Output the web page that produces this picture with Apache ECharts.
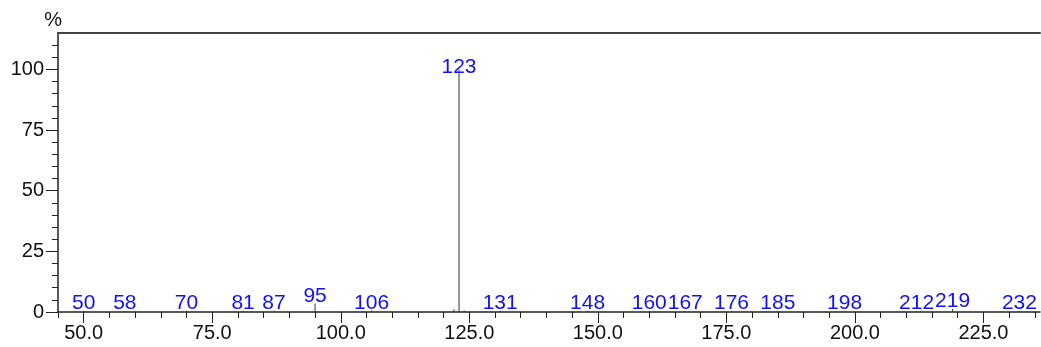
<!DOCTYPE html>
<html>
<head>
<meta charset="utf-8">
<script src="https://cdn.jsdelivr.net/npm/echarts@6/dist/echarts.min.js"></script>
<style>
  html, body { margin: 0; padding: 0; background: #fff; }
  #chart { width: 1041px; height: 347px; }
</style>
</head>
<body>
<div id="chart"></div>
<script>
// labelled peaks (m/z, relative intensity %)
var peakMz  = [50, 58, 70, 81, 87, 95, 106, 123, 131, 148, 160, 167, 176, 185, 198, 212, 219, 232];
var peakInt = [0.4, 0.4, 0.5, 0.5, 0.5, 3.5, 0.6, 100, 0.5, 0.5, 0.4, 0.4, 0.4, 0.4, 0.4, 0.4, 1.2, 0.4];
// small unlabelled peaks
var minorMz  = [122, 124];
var minorInt = [1.0, 0.6];

// tick positions
var xMajor = [50, 75, 100, 125, 150, 175, 200, 225];
var xMinor = [45, 55, 60, 65, 70, 80, 85, 90, 95, 105, 110, 115, 120, 130, 135, 140, 145,
              155, 160, 165, 170, 180, 185, 190, 195, 205, 210, 215, 220, 230, 235];
var yMajor = [0, 25, 50, 75, 100];
var yMinor = [5, 10, 15, 20, 30, 35, 40, 45, 55, 60, 65, 70, 80, 85, 90, 95, 105, 110];

var font = 'Liberation Sans, Arial, sans-serif';
var chart = echarts.init(document.getElementById('chart'));

var labelled = peakMz.map(function(m, i) {
    var item = { value: [m, peakInt[i]] };
    if (m === 123) {
        item.label = { offset: [0, 5] };
    }
    return item;
});
var unlabelled = minorMz.map(function(m, i) { return [m, minorInt[i]]; });

var option = {
    animation: false,
    grid: { left: 58, right: 1, top: 33, bottom: 35 },
    xAxis: [
        {
            type: 'value', min: 45, max: 236, position: 'bottom',
            axisLine: { show: true, onZero: false, lineStyle: { color: '#222', width: 1.5 } },
            axisTick: { show: true, length: 11, customValues: xMajor, lineStyle: { color: '#222' } },
            axisLabel: { customValues: xMajor, margin: 11, color: '#111', fontSize: 20, fontFamily: font,
                formatter: function(v) { return v.toFixed(1); } },
            splitLine: { show: false }
        },
        {
            type: 'value', min: 45, max: 236, position: 'bottom',
            axisLine: { show: false, onZero: false },
            axisTick: { show: true, length: 6, customValues: xMinor, lineStyle: { color: '#222' } },
            axisLabel: { show: false },
            splitLine: { show: false }
        },
        {
            type: 'value', min: 45, max: 236, position: 'top',
            axisLine: { show: true, onZero: false, lineStyle: { color: '#444', width: 2 } },
            axisTick: { show: false },
            axisLabel: { show: false },
            splitLine: { show: false }
        }
    ],
    yAxis: [
        {
            type: 'value', min: 0, max: 115,
            name: '%', nameGap: 3,
            nameTextStyle: { color: '#111', fontSize: 20, fontFamily: font, align: 'right', padding: [0, -4, 0, 0] },
            axisLine: { show: true, onZero: false, lineStyle: { color: '#222', width: 1.5 } },
            axisTick: { show: true, length: 12, customValues: yMajor, lineStyle: { color: '#222' } },
            axisLabel: { customValues: yMajor, margin: 14, color: '#111', fontSize: 20, fontFamily: font },
            splitLine: { show: false }
        },
        {
            type: 'value', min: 0, max: 115, position: 'left',
            axisLine: { show: false, onZero: false },
            axisTick: { show: true, length: 6, customValues: yMinor, lineStyle: { color: '#222' } },
            axisLabel: { show: false },
            splitLine: { show: false }
        }
    ],
    series: [
        {
            type: 'bar', xAxisIndex: 0, yAxisIndex: 0,
            barWidth: 1,
            itemStyle: { color: '#333' },
            label: {
                show: true, position: 'top', distance: -3,
                color: '#1010ff', fontSize: 21, fontFamily: font,
                formatter: function(p) { return p.value[0]; }
            },
            data: labelled
        },
        {
            type: 'bar', xAxisIndex: 0, yAxisIndex: 0,
            barWidth: 1, barGap: '-100%',
            itemStyle: { color: '#333' },
            data: unlabelled
        }
    ]
};

chart.setOption(option);
</script>
</body>
</html>
